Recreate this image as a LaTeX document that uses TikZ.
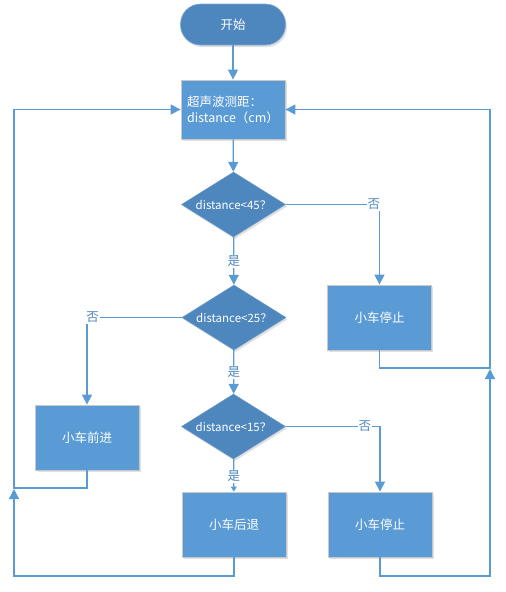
\documentclass[tikz,border=0pt]{standalone}
\usepackage{fontspec}
\newfontfamily\cjk{Noto Sans CJK SC}
\usetikzlibrary{shapes.geometric, arrows.meta, shadows}
\definecolor{boxblue}{HTML}{5B9BD5}
\definecolor{darkblue}{HTML}{4E87BE}
\definecolor{lineblue}{HTML}{5B9BD5}
\definecolor{edgegray}{HTML}{C8C8C8}

\begin{document}
\begin{tikzpicture}[x=1pt, y=-1pt,
  font=\cjk\fontsize{12.5}{15}\selectfont,
  soft/.style={drop shadow={shadow xshift=1.5pt, shadow yshift=-2pt, opacity=0.12, fill=black}},
  proc/.style={rectangle, draw=edgegray, line width=0.8pt, fill=boxblue, text=white,
    minimum width=104pt, minimum height=65pt, inner sep=2pt, soft},
  decide/.style={diamond, aspect=1.6, draw=darkblue!85!white, line width=0.5pt, fill=darkblue,
    text=white, minimum width=104pt, minimum height=65pt, inner sep=0pt, soft,
    font=\cjk\fontsize{11.5}{13}\selectfont},
  term/.style={rectangle, rounded corners=20pt, draw=darkblue!70!white, line width=0.6pt,
    fill=darkblue, text=white, minimum width=105pt, minimum height=41pt, soft},
  arr/.style={draw=lineblue, line width=1.3pt, -{Triangle[length=10pt, width=10pt]}},
  arrsmall/.style={draw=lineblue, line width=1.3pt, -{Triangle[length=5pt, width=6pt]}},
  lbl/.style={fill=white, text=darkblue, inner sep=1pt}]
\useasboundingbox (0,0) rectangle (506,592);

% main column
\node[term] (start) at (233,24.5) {开始};
\node[proc, minimum height=59pt, align=left] (scan) at (233,109.5)
  {超声波测距：\\[1pt]distance（cm）};
\node[decide] (d1) at (233.5,204.5) {distance<45？};
\node[decide] (d2) at (234,317.5) {distance<25？};
\node[decide] (d3) at (233.5,426.5) {distance<15？};
\node[proc] (back) at (234,524.5) {小车后退};

% side boxes
\node[proc] (stopA) at (379.5,317.5) {小车停止};
\node[proc] (stopB) at (380,524.5) {小车停止};
\node[proc] (fwd) at (87,437.5) {小车前进};

% turning points of the loops
\coordinate (L1) at (14,488);
\coordinate (L2) at (14,576);
\coordinate (L3) at (14,489);
\coordinate (R1) at (490,368);
\coordinate (R2) at (490,576);
\coordinate (R3) at (490,369);

\draw[arr] (start) -- (scan);
\draw[arr] (scan) -- (d1);
\draw[arr] (d1) -- node[lbl]{是} (d2);
\draw[arr] (d2) -- node[lbl]{是} (d3);
\draw[arrsmall] (d3) -- node[lbl, pos=0.52]{是} (back);
\draw[arr] (d1.east) -| node[lbl, pos=0.47]{否} (stopA);
\draw[arr] (d2.west) -| node[lbl, pos=0.47]{否} (fwd);
\draw[arr] (d3.east) -| node[lbl, pos=0.42]{否} (stopB);

% back to the measurement
\draw[arr] (fwd.south) |- (L1) |- (scan.west);
\draw[arr] (back.south) |- (L2) -- (L3);
\draw[arr] (stopA.south) |- (R1) |- (scan.east);
\draw[arr] (stopB.south) |- (R2) -- (R3);
\end{tikzpicture}
\end{document}
